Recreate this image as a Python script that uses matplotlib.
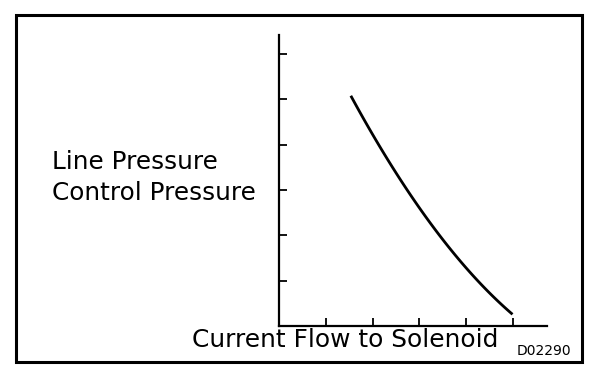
import matplotlib
matplotlib.use("Agg")
from matplotlib import pyplot as plt
from matplotlib.patches import Rectangle
import numpy as np

# curve (axis units = tick spacing)
current = [1.55, 2.12, 2.72, 3.47, 4.22, 4.97]
pressure = [5.10, 3.96, 3.00, 1.97, 1.09, 0.24]
xticks = [1, 2, 3, 4, 5]
yticks = [1, 2, 3, 4, 5, 6]

ylabel_lines = ["Line Pressure", "Control Pressure"]
xlabel = "Current Flow to Solenoid"
code = "D02290"

plt.rcParams["font.family"] = ["DejaVu Sans"]

W, H = 608, 378
fig = plt.figure(figsize=(W / 100, H / 100), dpi=100)

# outer frame
fig.patches.append(Rectangle((16 / W, 1 - 362 / H), (582 - 16) / W, (362 - 15) / H,
                             transform=fig.transFigure, fill=False,
                             edgecolor="black", linewidth=2.2))

ax = fig.add_axes([279 / W, 1 - 326 / H, (547 - 279) / W, (326 - 35) / H])

# smooth the read points with a quadratic fit drawn through them
coef = np.polyfit(current, pressure, 2)
xs = np.linspace(current[0], current[-1], 100)
ax.plot(xs, np.polyval(coef, xs), color="black", linewidth=2.0)

ax.set_xlim(0, 5.73)
ax.set_ylim(0, 6.42)
ax.set_xticks(xticks)
ax.set_yticks(yticks)
ax.tick_params(direction="in", length=6, width=1.3, labelbottom=False, labelleft=False)
for s in ["top", "right"]:
    ax.spines[s].set_visible(False)
for s in ["left", "bottom"]:
    ax.spines[s].set_linewidth(1.6)

fig.text(52 / W, 1 - 169 / H, ylabel_lines[0], fontsize=17.8, va="baseline", ha="left")
fig.text(52 / W, 1 - 200 / H, ylabel_lines[1], fontsize=17.8, va="baseline", ha="left")
fig.text(192 / W, 1 - 347 / H, xlabel, fontsize=17.9, va="baseline", ha="left")
fig.text(517 / W, 1 - 355 / H, code, fontsize=10, va="baseline", ha="left")

fig.savefig("out.png", dpi=100)
